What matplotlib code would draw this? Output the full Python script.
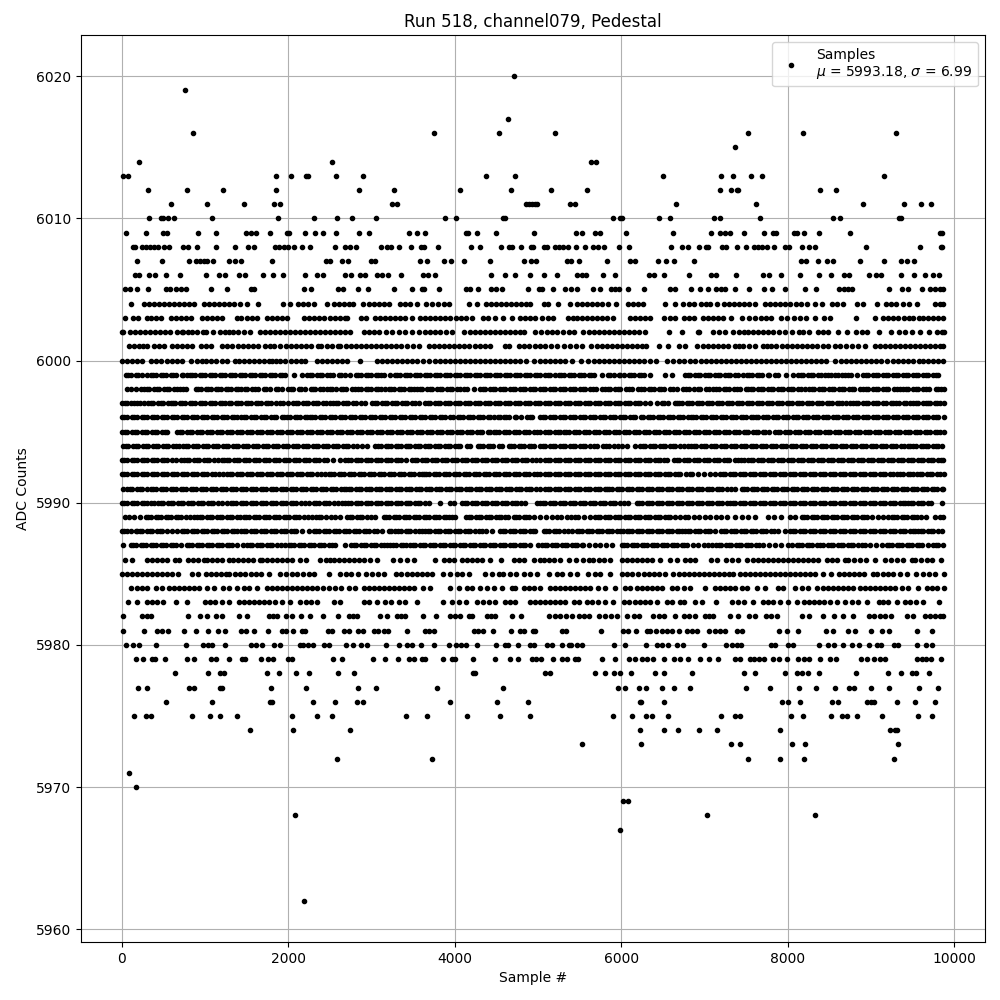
import matplotlib
matplotlib.use('Agg')
import matplotlib.pyplot as plt
import numpy as np

# Sample numbers per ADC level
s6020 = [4708]
s6019 = [760]
s6017 = [4636]
s6016 = [856, 3748, 4528, 5200, 7528, 8188, 9304]
s6015 = [7372]
s6014 = [208, 2524, 5644, 5704]
s6013 = [16, 76, 1852, 2032, 2216, 2240, 2572, 2896, 4372, 4720, 6508, 7204, 7348, 7564, 7696, 9160]
s6012 = [316, 784, 1216, 1852, 2848, 3268, 4060, 4672, 5152, 5596, 7192, 7324, 7396, 7408, 8392, 8584]
s6011 = [592, 1024, 1468, 1828, 1904, 3244, 3304, 4852, 4890, 4930, 4960, 4990, 5380, 5452, 6664, 7624, 8908, 9400, 9604, 9724]
s6010 = [328, 470, 500, 560, 628, 1084, 1876, 2308, 2584, 2764, 3052, 3880, 4012, 4576, 4600, 5908, 5988, 6016, 6460, 6592, 7116, 7188, 7672, 8548, 8632, 9340, 9360]
s6009 = [52, 292, 496, 544, 916, 1132, 1492, 1552, 1612, 1780, 1984, 2008, 2200, 2320, 2416, 2572, 2848, 2968, 3448, 3544, 3640, 4132, 4156, 4264, 4492, 4948, 5464, 5536, 5692, 5752, 6064, 6628, 7084, 7192, 7252, 7312, 7480, 7720, 7828, 7864, 8080, 8116, 8200, 8380, 8752, 9832, 9856]
s6008 = [136, 160, 244, 292, 340, 388, 436, 508, 568, 736, 796, 904, 1132, 1360, 1516, 1588, 1840, 1888, 1948, 1996, 2068, 2164, 2260, 2560, 2680, 2740, 2812, 3112, 3184, 3232, 3328, 3472, 3592, 3628, 3796, 4192, 4304, 4552, 4648, 4684, 4800, 4912, 4936, 5068, 5104, 5200, 5248, 5296, 5356, 5464, 5572, 5668, 5728, 5800, 5980, 6100, 6604, 6736, 6808, 6940, 7024, 7048, 7216, 7264, 7396, 7504, 7600, 7648, 7696, 7756, 7840, 7972, 8020, 8176, 8260, 8332, 8944, 9592, 9844, 9856]
s6007 = [184, 484, 808, 892, 940, 988, 1024, 1096, 1288, 1360, 1432, 1804, 2452, 2500, 2644, 2716, 2992, 3040, 3580, 3664, 3868, 3952, 4108, 4420, 4828, 4912, 4972, 5344, 5392, 5500, 5836, 6112, 6172, 6448, 6544, 6640, 6880, 8164, 8224, 8368, 8476, 8548, 8872, 9160, 9364, 9436, 9520]
s6006 = [160, 208, 328, 400, 532, 700, 1012, 1168, 1240, 1408, 1480, 1696, 1816, 1936, 2200, 2344, 2416, 2680, 2752, 2860, 2920, 3064, 3124, 3196, 3352, 3616, 3676, 3760, 4432, 4600, 4720, 4900, 5068, 5224, 5476, 5536, 5584, 5788, 5932, 6340, 6400, 6520, 6820, 7084, 7144, 7384, 7708, 7780, 7924, 8152, 8380, 8524, 8680, 8740, 8980, 9064, 9124, 9364, 9520, 9652, 9748, 9820]
s6005 = [40, 100, 184, 316, 532, 580, 652, 712, 772, 1072, 1264, 1552, 1588, 2188, 2272, 2596, 2656, 2836, 2956, 3268, 3484, 3604, 3628, 3808, 4132, 4180, 4276, 4432, 4492, 4564, 4876, 5008, 5048, 5176, 5320, 5392, 5476, 5668, 5752, 5884, 5932, 5980, 6088, 6280, 6592, 6652, 6844, 6952, 7048, 7144, 7204, 7252, 7372, 7540, 7720, 7816, 7972, 8212, 8344, 8620, 8680, 8728, 8776, 9220, 9376, 9448, 9616, 9712, 9772, 9828, 9870]
s6004 = [108, 268, 328, 388, 448, 508, 568, 628, 688, 748, 808, 868, 988, 1048, 1108, 1168, 1228, 1288, 1348, 1420, 1504, 1636, 1936, 2020, 2116, 2176, 2236, 2308, 2464, 2548, 2608, 2668, 2728, 2776, 2896, 2968, 3028, 3088, 3148, 3208, 3348, 3408, 3468, 3548, 3652, 3724, 3796, 3868, 3928, 4168, 4268, 4372, 4432, 4492, 4552, 4612, 4672, 4732, 4792, 4852, 4900, 5068, 5116, 5236, 5380, 5476, 5536, 5596, 5656, 5716, 5776, 5848, 5944, 6088, 6148, 6208, 6268, 6532, 6652, 6748, 6820, 6880, 6964, 7024, 7072, 7156, 7240, 7300, 7360, 7420, 7480, 7540, 7612, 7732, 7792, 7852, 7912, 7972, 8032, 8104, 8164, 8236, 8332, 8416, 8536, 8596, 8668, 8836, 8908, 9076, 9184, 9244, 9304, 9388, 9460, 9556, 9772, 9832, 9870]
s6003 = [40, 136, 196, 308, 356, 408, 468, 588, 648, 708, 768, 828, 968, 1028, 1088, 1148, 1208, 1380, 1440, 1508, 1568, 1628, 1748, 1808, 1868, 1928, 1988, 2196, 2256, 2316, 2376, 2436, 2508, 2568, 2628, 2688, 2708, 2876, 2940, 3048, 3108, 3168, 3228, 3288, 3348, 3408, 3488, 3580, 3640, 3700, 3760, 3820, 3880, 3948, 4012, 4072, 4132, 4208, 4340, 4400, 4484, 4580, 4688, 4788, 4848, 4908, 4968, 5048, 5120, 5180, 5356, 5416, 5476, 5536, 5596, 5656, 5716, 5776, 5836, 5900, 6112, 6172, 6232, 6292, 6352, 6520, 6592, 6652, 6760, 6820, 6880, 6988, 7048, 7108, 7168, 7228, 7324, 7448, 7540, 7612, 7684, 7744, 7804, 7924, 7996, 8080, 8148, 8224, 8332, 8440, 8512, 8824, 9048, 9148, 9208, 9268, 9320, 9392, 9452, 9512, 9580, 9632, 9692, 9752, 9812, 9872]
s6002 = [0, 16, 100, 160, 220, 280, 340, 400, 460, 520, 580, 660, 720, 736, 796, 848, 908, 976, 1012, 1092, 1180, 1240, 1288, 1336, 1400, 1470, 1548, 1660, 1720, 1780, 1840, 1900, 1960, 2020, 2080, 2140, 2200, 2260, 2320, 2380, 2440, 2500, 2560, 2620, 2680, 2748, 2908, 2968, 3028, 3088, 3180, 3248, 3336, 3408, 3492, 3576, 3640, 3700, 3770, 3830, 3900, 3964, 4108, 4180, 4240, 4300, 4360, 4420, 4480, 4540, 4600, 4660, 4720, 4780, 4836, 4968, 5040, 5110, 5170, 5230, 5300, 5370, 5430, 5548, 5610, 5670, 5730, 5790, 5850, 5910, 5970, 6030, 6090, 6150, 6220, 6288, 6580, 6736, 6920, 6936, 7108, 7180, 7248, 7340, 7420, 7470, 7528, 7588, 7650, 7710, 7770, 7830, 7900, 7970, 8048, 8140, 8188, 8260, 8368, 8430, 8488, 8608, 8712, 8824, 8890, 8948, 9100, 9244, 9340, 9410, 9488, 9592, 9700, 9796, 9850, 9875]
s6001 = [88, 150, 210, 260, 308, 388, 450, 508, 600, 670, 730, 790, 848, 948, 1010, 1068, 1208, 1270, 1330, 1400, 1460, 1520, 1580, 1636, 1728, 1780, 1828, 1904, 1972, 2030, 2090, 2150, 2210, 2280, 2356, 2392, 2468, 2530, 2596, 2628, 2690, 2750, 2810, 2870, 2930, 2990, 3050, 3110, 3180, 3240, 3300, 3360, 3430, 3500, 3568, 3688, 3750, 3810, 3870, 3930, 3990, 4050, 4110, 4170, 4240, 4300, 4370, 4428, 4600, 4648, 4768, 4830, 4890, 4960, 5028, 5090, 5160, 5230, 5308, 5388, 5460, 5528, 5644, 5708, 5770, 5830, 5890, 5950, 6010, 6070, 6130, 6190, 6248, 6304, 6460, 6568, 6700, 6772, 6916, 6980, 7040, 7100, 7160, 7220, 7288, 7368, 7420, 7468, 7540, 7610, 7708, 7748, 7800, 7856, 7928, 7996, 8048, 8110, 8170, 8230, 8290, 8350, 8420, 8490, 8568, 8628, 8700, 8770, 8850, 8928, 9048, 9110, 9170, 9230, 9290, 9350, 9410, 9470, 9530, 9590, 9650, 9710, 9770, 9830, 9872]
s6000 = [8, 70, 130, 190, 250, 348, 408, 468, 548, 610, 670, 728, 836, 900, 960, 1010, 1068, 1128, 1208, 1268, 1356, 1408, 1470, 1530, 1590, 1650, 1710, 1768, 1808, 1860, 1908, 1968, 2030, 2090, 2150, 2208, 2348, 2410, 2470, 2530, 2590, 2650, 2708, 2868, 3068, 3130, 3190, 3250, 3310, 3370, 3430, 3490, 3550, 3620, 3688, 3768, 3830, 3890, 3950, 4010, 4070, 4128, 4180, 4240, 4300, 4360, 4420, 4480, 4540, 4600, 4660, 4720, 4788, 4860, 4948, 5028, 5090, 5150, 5210, 5268, 5328, 5408, 5524, 5608, 5670, 5730, 5790, 5850, 5910, 5970, 6030, 6090, 6150, 6210, 6280, 6348, 6424, 6548, 6628, 6690, 6760, 6830, 6888, 6964, 7020, 7080, 7140, 7200, 7260, 7320, 7380, 7440, 7500, 7560, 7620, 7680, 7740, 7800, 7860, 7920, 7980, 8040, 8100, 8160, 8220, 8280, 8340, 8400, 8460, 8568, 8640, 8700, 8760, 8820, 8880, 8940, 9000, 9060, 9120, 9188, 9260, 9320, 9380, 9440, 9510, 9580, 9628, 9690, 9750, 9810, 9868]
s5999 = [48, 80, 110, 170, 200, 240, 308, 348, 380, 410, 470, 500, 530, 590, 620, 650, 720, 740, 788, 820, 850, 880, 940, 970, 1000, 1060, 1090, 1120, 1180, 1210, 1240, 1300, 1330, 1360, 1420, 1450, 1480, 1540, 1570, 1600, 1660, 1690, 1720, 1780, 1810, 1840, 1900, 1930, 1968, 2076, 2168, 2228, 2260, 2290, 2350, 2380, 2410, 2470, 2500, 2540, 2610, 2640, 2688, 2748, 2810, 2840, 2870, 2930, 2960, 2990, 3050, 3080, 3110, 3156, 3228, 3280, 3310, 3340, 3400, 3430, 3460, 3520, 3550, 3580, 3640, 3670, 3700, 3760, 3790, 3820, 3880, 3910, 3940, 4000, 4030, 4060, 4120, 4150, 4180, 4240, 4270, 4300, 4360, 4390, 4428, 4480, 4510, 4540, 4600, 4630, 4660, 4720, 4750, 4780, 4840, 4870, 4900, 4960, 4990, 5028, 5090, 5120, 5150, 5208, 5248, 5280, 5310, 5370, 5400, 5430, 5490, 5520, 5550, 5610, 5640, 5670, 5768, 5848, 5870, 5910, 5970, 5990, 6030, 6090, 6120, 6150, 6210, 6240, 6280, 6348, 6528, 6608, 6768, 6800, 6830, 6890, 6920, 6950, 7010, 7040, 7070, 7130, 7160, 7190, 7250, 7280, 7310, 7370, 7400, 7468, 7508, 7540, 7570, 7630, 7660, 7690, 7760, 7780, 7848, 7888, 7980, 8068, 8128, 8160, 8190, 8250, 8280, 8310, 8370, 8400, 8448, 8488, 8520, 8570, 8610, 8648, 8688, 8720, 8760, 8828, 8908, 8940, 8970, 9030, 9060, 9090, 9150, 9180, 9210, 9270, 9300, 9330, 9390, 9420, 9450, 9510, 9540, 9570, 9630, 9660, 9690, 9750, 9780, 9808]
s5998 = [68, 108, 168, 228, 268, 300, 330, 390, 420, 450, 510, 540, 570, 630, 660, 700, 740, 768, 888, 920, 950, 1010, 1040, 1070, 1130, 1160, 1190, 1250, 1280, 1310, 1370, 1400, 1440, 1480, 1508, 1568, 1600, 1640, 1710, 1740, 1780, 1850, 1880, 1928, 1996, 2040, 2060, 2130, 2160, 2200, 2270, 2300, 2328, 2388, 2420, 2468, 2508, 2530, 2570, 2640, 2660, 2700, 2768, 2808, 2840, 2870, 2930, 2960, 2990, 3050, 3080, 3110, 3168, 3208, 3240, 3270, 3330, 3360, 3390, 3450, 3480, 3508, 3548, 3580, 3610, 3670, 3700, 3730, 3790, 3820, 3850, 3910, 3940, 3970, 4030, 4060, 4108, 4148, 4228, 4308, 4340, 4370, 4430, 4460, 4490, 4550, 4580, 4610, 4670, 4700, 4730, 4790, 4820, 4850, 4910, 4940, 4970, 5028, 5060, 5090, 5150, 5180, 5210, 5270, 5300, 5330, 5390, 5420, 5450, 5510, 5540, 5570, 5630, 5660, 5700, 5768, 5808, 5840, 5870, 5930, 5960, 5990, 6060, 6090, 6128, 6208, 6240, 6270, 6330, 6360, 6390, 6450, 6480, 6520, 6590, 6620, 6668, 6740, 6780, 6810, 6880, 6920, 6950, 7020, 7060, 7108, 7140, 7170, 7230, 7260, 7290, 7360, 7390, 7430, 7500, 7528, 7560, 7590, 7650, 7680, 7710, 7770, 7800, 7830, 7890, 7920, 7950, 8010, 8040, 8070, 8130, 8160, 8208, 8260, 8290, 8320, 8380, 8410, 8440, 8500, 8530, 8560, 8620, 8650, 8680, 8740, 8770, 8800, 8868, 8908, 8940, 8970, 9030, 9060, 9090, 9150, 9180, 9210, 9280, 9310, 9348, 9388, 9420, 9450, 9510, 9540, 9570, 9630, 9660, 9700, 9788, 9808, 9840, 9876]
s5997 = [0, 40, 70, 110, 148, 180, 220, 268, 320, 350, 380, 440, 470, 500, 560, 590, 620, 636, 700, 730, 760, 820, 850, 880, 940, 970, 1000, 1060, 1090, 1120, 1180, 1210, 1240, 1290, 1316, 1368, 1400, 1430, 1490, 1520, 1550, 1610, 1640, 1670, 1730, 1760, 1790, 1850, 1900, 1940, 1996, 2060, 2090, 2120, 2180, 2210, 2240, 2300, 2330, 2360, 2420, 2450, 2508, 2540, 2570, 2600, 2660, 2690, 2720, 2780, 2810, 2876, 2928, 3008, 3040, 3070, 3130, 3160, 3190, 3250, 3280, 3310, 3370, 3400, 3430, 3490, 3520, 3568, 3648, 3680, 3710, 3770, 3800, 3830, 3890, 3920, 3950, 4010, 4040, 4070, 4130, 4160, 4190, 4250, 4280, 4310, 4370, 4400, 4430, 4490, 4520, 4550, 4610, 4640, 4670, 4730, 4760, 4790, 4850, 4880, 4910, 4970, 5000, 5028, 5090, 5120, 5150, 5210, 5240, 5270, 5330, 5360, 5390, 5450, 5480, 5510, 5570, 5600, 5630, 5690, 5720, 5750, 5810, 5840, 5870, 5930, 5960, 5990, 6050, 6080, 6110, 6170, 6200, 6230, 6288, 6348, 6428, 6488, 6520, 6560, 6648, 6668, 6700, 6730, 6790, 6820, 6850, 6910, 6940, 6970, 7030, 7060, 7090, 7150, 7180, 7210, 7270, 7300, 7330, 7390, 7420, 7450, 7510, 7540, 7570, 7630, 7660, 7690, 7750, 7780, 7810, 7870, 7900, 7930, 7990, 8020, 8050, 8110, 8140, 8170, 8230, 8260, 8290, 8350, 8380, 8410, 8470, 8500, 8530, 8590, 8620, 8650, 8700, 8748, 8788, 8820, 8850, 8910, 8940, 8970, 9030, 9060, 9090, 9150, 9180, 9240, 9268, 9300, 9340, 9400, 9420, 9468, 9500, 9540, 9570, 9630, 9660, 9688, 9708, 9770, 9800, 9830, 9877]
s5996 = [0, 30, 60, 120, 150, 180, 240, 270, 300, 360, 390, 420, 480, 510, 540, 600, 630, 660, 720, 750, 780, 840, 870, 900, 960, 990, 1020, 1080, 1110, 1140, 1200, 1230, 1260, 1320, 1350, 1380, 1440, 1470, 1500, 1560, 1590, 1620, 1680, 1710, 1740, 1800, 1830, 1860, 1928, 1956, 1990, 2020, 2080, 2110, 2140, 2200, 2228, 2260, 2290, 2320, 2380, 2410, 2440, 2500, 2530, 2560, 2620, 2650, 2680, 2740, 2770, 2800, 2860, 2890, 2920, 2980, 3010, 3040, 3100, 3130, 3160, 3220, 3250, 3280, 3340, 3370, 3400, 3460, 3490, 3520, 3580, 3610, 3640, 3700, 3730, 3760, 3820, 3850, 3880, 3950, 3980, 4036, 4070, 4100, 4160, 4190, 4220, 4280, 4310, 4340, 4400, 4430, 4470, 4520, 4548, 4588, 4620, 4650, 4720, 4740, 4796, 4868, 4900, 4930, 5028, 5060, 5090, 5150, 5180, 5210, 5270, 5300, 5330, 5390, 5420, 5450, 5510, 5540, 5570, 5630, 5660, 5690, 5750, 5780, 5810, 5870, 5900, 5930, 5990, 6020, 6050, 6110, 6140, 6170, 6240, 6268, 6320, 6350, 6380, 6440, 6470, 6500, 6560, 6590, 6620, 6680, 6710, 6740, 6808, 6836, 6860, 6900, 6960, 6980, 7020, 7080, 7100, 7140, 7200, 7220, 7260, 7320, 7340, 7380, 7440, 7460, 7500, 7556, 7588, 7620, 7650, 7710, 7740, 7770, 7830, 7860, 7890, 7950, 7980, 8010, 8070, 8100, 8130, 8190, 8220, 8250, 8310, 8340, 8370, 8430, 8460, 8490, 8550, 8580, 8610, 8670, 8700, 8730, 8790, 8820, 8850, 8910, 8940, 8970, 9030, 9060, 9090, 9150, 9180, 9210, 9270, 9300, 9330, 9390, 9420, 9450, 9510, 9540, 9570, 9630, 9660, 9690, 9750, 9780, 9810, 9875]
s5995 = [8, 40, 70, 130, 160, 190, 250, 280, 310, 370, 400, 430, 490, 520, 548, 668, 700, 730, 790, 820, 850, 910, 940, 970, 1030, 1060, 1090, 1150, 1180, 1210, 1270, 1300, 1330, 1390, 1420, 1450, 1510, 1540, 1570, 1630, 1660, 1690, 1750, 1780, 1810, 1870, 1900, 1930, 1990, 2020, 2050, 2110, 2140, 2170, 2230, 2260, 2290, 2350, 2380, 2410, 2470, 2500, 2530, 2590, 2620, 2650, 2710, 2740, 2770, 2830, 2860, 2890, 2950, 2980, 3010, 3070, 3100, 3130, 3190, 3220, 3250, 3310, 3340, 3370, 3430, 3460, 3490, 3550, 3580, 3610, 3670, 3700, 3730, 3790, 3820, 3850, 3910, 3940, 3970, 4030, 4060, 4090, 4150, 4180, 4210, 4270, 4300, 4330, 4400, 4428, 4468, 4500, 4530, 4590, 4620, 4650, 4710, 4740, 4770, 4830, 4860, 4890, 4950, 4990, 5028, 5090, 5120, 5150, 5210, 5240, 5268, 5308, 5340, 5370, 5430, 5460, 5490, 5550, 5580, 5610, 5670, 5700, 5730, 5790, 5820, 5850, 5910, 5940, 5970, 6030, 6060, 6090, 6150, 6180, 6210, 6270, 6300, 6330, 6390, 6420, 6450, 6510, 6540, 6570, 6630, 6660, 6690, 6750, 6780, 6810, 6870, 6900, 6930, 6990, 7020, 7050, 7110, 7140, 7170, 7230, 7260, 7290, 7350, 7380, 7410, 7470, 7500, 7530, 7590, 7620, 7650, 7700, 7728, 7780, 7848, 7880, 7910, 7970, 8000, 8030, 8090, 8120, 8150, 8210, 8240, 8270, 8330, 8360, 8390, 8450, 8480, 8510, 8570, 8600, 8630, 8690, 8720, 8750, 8810, 8840, 8870, 8930, 8960, 8990, 9050, 9080, 9110, 9170, 9200, 9230, 9290, 9320, 9350, 9410, 9440, 9470, 9530, 9560, 9590, 9650, 9680, 9710, 9770, 9800, 9830, 9877]
s5994 = [20, 50, 80, 140, 170, 200, 260, 290, 320, 380, 410, 440, 500, 530, 560, 620, 650, 688, 740, 770, 800, 860, 890, 920, 980, 1010, 1040, 1100, 1130, 1160, 1220, 1250, 1280, 1340, 1370, 1400, 1460, 1490, 1520, 1580, 1610, 1640, 1700, 1730, 1760, 1820, 1850, 1880, 1940, 1970, 2000, 2060, 2090, 2120, 2180, 2210, 2240, 2300, 2330, 2360, 2420, 2450, 2480, 2540, 2570, 2600, 2660, 2690, 2720, 2780, 2828, 2888, 2948, 3048, 3080, 3110, 3170, 3200, 3230, 3290, 3320, 3350, 3410, 3440, 3470, 3530, 3560, 3590, 3650, 3680, 3710, 3770, 3800, 3830, 3890, 3920, 3950, 4010, 4040, 4070, 4150, 4180, 4280, 4310, 4340, 4400, 4430, 4460, 4530, 4568, 4648, 4680, 4710, 4770, 4800, 4830, 4890, 4920, 4950, 5028, 5060, 5090, 5150, 5180, 5210, 5270, 5300, 5330, 5390, 5420, 5450, 5510, 5540, 5570, 5630, 5670, 5708, 5788, 5820, 5850, 5910, 5960, 6008, 6076, 6164, 6228, 6260, 6290, 6350, 6380, 6410, 6470, 6500, 6530, 6590, 6620, 6650, 6710, 6750, 6808, 6836, 6870, 6900, 6960, 6990, 7020, 7080, 7110, 7140, 7200, 7230, 7260, 7320, 7350, 7380, 7440, 7470, 7500, 7560, 7590, 7620, 7680, 7710, 7740, 7800, 7830, 7860, 7920, 7950, 7980, 8040, 8070, 8100, 8160, 8190, 8220, 8280, 8310, 8340, 8400, 8430, 8460, 8520, 8550, 8580, 8640, 8670, 8700, 8760, 8790, 8820, 8880, 8910, 8940, 9000, 9030, 9060, 9120, 9150, 9180, 9240, 9270, 9300, 9360, 9400, 9448, 9468, 9500, 9540, 9608, 9628, 9660, 9690, 9750, 9780, 9810, 9860]
s5993 = [0, 30, 60, 120, 150, 180, 240, 270, 300, 360, 390, 420, 480, 510, 540, 600, 650, 708, 748, 780, 810, 870, 900, 930, 990, 1020, 1050, 1110, 1160, 1208, 1228, 1260, 1290, 1350, 1380, 1410, 1470, 1500, 1530, 1590, 1620, 1650, 1710, 1740, 1770, 1830, 1860, 1890, 1950, 1980, 2010, 2070, 2100, 2130, 2190, 2220, 2250, 2310, 2340, 2370, 2430, 2470, 2540, 2620, 2688, 2720, 2750, 2810, 2840, 2870, 2930, 2960, 2990, 3050, 3080, 3110, 3170, 3200, 3230, 3290, 3320, 3350, 3420, 3488, 3520, 3550, 3610, 3640, 3670, 3730, 3760, 3790, 3850, 3880, 3910, 3970, 4000, 4030, 4090, 4120, 4150, 4210, 4240, 4270, 4330, 4360, 4390, 4450, 4480, 4510, 4570, 4600, 4630, 4690, 4720, 4750, 4810, 4840, 4870, 4930, 4980, 5028, 5090, 5120, 5150, 5210, 5240, 5270, 5330, 5360, 5390, 5450, 5480, 5510, 5570, 5600, 5630, 5690, 5720, 5750, 5810, 5840, 5870, 5930, 5960, 5990, 6050, 6080, 6110, 6170, 6200, 6230, 6290, 6320, 6350, 6410, 6440, 6470, 6510, 6548, 6640, 6670, 6700, 6760, 6790, 6820, 6880, 6910, 6940, 7000, 7030, 7060, 7120, 7150, 7180, 7240, 7270, 7300, 7368, 7408, 7440, 7470, 7530, 7560, 7590, 7650, 7680, 7710, 7770, 7800, 7830, 7890, 7920, 7950, 8010, 8040, 8070, 8130, 8160, 8190, 8250, 8280, 8310, 8370, 8400, 8430, 8490, 8520, 8550, 8610, 8640, 8670, 8730, 8760, 8790, 8850, 8880, 8910, 8970, 9000, 9030, 9090, 9120, 9150, 9210, 9240, 9270, 9330, 9360, 9390, 9450, 9480, 9510, 9570, 9600, 9630, 9690, 9720, 9750, 9810, 9840, 9872]
s5992 = [0, 30, 60, 120, 150, 180, 240, 270, 300, 360, 390, 420, 480, 510, 540, 600, 630, 660, 720, 750, 780, 840, 870, 900, 960, 990, 1020, 1080, 1120, 1168, 1220, 1268, 1300, 1330, 1390, 1420, 1450, 1510, 1540, 1570, 1630, 1660, 1690, 1750, 1780, 1810, 1870, 1900, 1930, 1990, 2020, 2050, 2110, 2140, 2170, 2230, 2260, 2290, 2350, 2400, 2448, 2488, 2520, 2550, 2610, 2640, 2670, 2730, 2760, 2790, 2850, 2880, 2910, 2970, 3000, 3030, 3090, 3120, 3150, 3210, 3240, 3270, 3330, 3360, 3390, 3450, 3480, 3510, 3570, 3608, 3628, 3660, 3690, 3750, 3780, 3810, 3870, 3900, 3930, 3990, 4020, 4050, 4110, 4140, 4170, 4230, 4260, 4290, 4350, 4380, 4410, 4470, 4500, 4530, 4590, 4620, 4650, 4710, 4740, 4770, 4830, 4860, 4890, 4950, 4990, 5028, 5090, 5120, 5150, 5210, 5240, 5270, 5330, 5360, 5390, 5450, 5480, 5510, 5570, 5600, 5630, 5690, 5720, 5750, 5810, 5840, 5870, 5930, 5960, 5990, 6050, 6080, 6110, 6170, 6200, 6230, 6290, 6320, 6350, 6410, 6440, 6470, 6530, 6560, 6590, 6650, 6680, 6710, 6780, 6828, 6848, 6920, 6990, 7068, 7128, 7188, 7220, 7250, 7310, 7340, 7370, 7430, 7460, 7490, 7550, 7580, 7610, 7670, 7700, 7730, 7790, 7820, 7850, 7910, 7940, 7970, 8030, 8060, 8090, 8150, 8180, 8210, 8270, 8300, 8330, 8390, 8420, 8450, 8510, 8540, 8570, 8630, 8660, 8690, 8750, 8780, 8810, 8870, 8900, 8930, 8990, 9020, 9050, 9110, 9140, 9170, 9230, 9268, 9316, 9350, 9380, 9440, 9470, 9500, 9560, 9590, 9620, 9680, 9710, 9740, 9800, 9830, 9875]
s5991 = [20, 68, 100, 130, 190, 220, 250, 308, 348, 380, 410, 470, 500, 530, 590, 620, 650, 710, 740, 770, 830, 860, 890, 950, 980, 1010, 1070, 1100, 1130, 1190, 1220, 1250, 1310, 1340, 1370, 1430, 1460, 1490, 1550, 1580, 1610, 1670, 1700, 1730, 1790, 1820, 1850, 1910, 1940, 1970, 2030, 2060, 2090, 2150, 2180, 2210, 2270, 2300, 2330, 2390, 2420, 2450, 2510, 2540, 2570, 2630, 2668, 2700, 2730, 2760, 2820, 2850, 2880, 2940, 2970, 3000, 3060, 3090, 3120, 3180, 3210, 3240, 3300, 3330, 3360, 3420, 3450, 3480, 3540, 3570, 3600, 3660, 3690, 3720, 3780, 3810, 3840, 3900, 3930, 3960, 4020, 4050, 4080, 4140, 4170, 4200, 4260, 4290, 4320, 4380, 4410, 4440, 4500, 4530, 4560, 4620, 4650, 4680, 4740, 4770, 4800, 4860, 4890, 4920, 4980, 5028, 5090, 5120, 5150, 5210, 5240, 5270, 5330, 5360, 5390, 5450, 5480, 5510, 5570, 5600, 5630, 5690, 5720, 5750, 5808, 5828, 5860, 5890, 5950, 5980, 6010, 6070, 6100, 6130, 6190, 6220, 6250, 6310, 6340, 6370, 6430, 6460, 6490, 6550, 6580, 6610, 6670, 6700, 6730, 6790, 6820, 6850, 6910, 6940, 6970, 7030, 7060, 7090, 7150, 7180, 7210, 7270, 7320, 7368, 7448, 7480, 7510, 7570, 7600, 7630, 7690, 7720, 7750, 7810, 7840, 7870, 7930, 7960, 7990, 8050, 8080, 8110, 8170, 8200, 8230, 8290, 8320, 8350, 8410, 8440, 8470, 8530, 8560, 8590, 8650, 8680, 8710, 8770, 8800, 8830, 8890, 8920, 8950, 9010, 9040, 9070, 9130, 9160, 9190, 9250, 9280, 9310, 9370, 9400, 9430, 9490, 9520, 9550, 9610, 9640, 9670, 9730, 9760, 9790, 9850, 9872]
s5990 = [0, 30, 60, 120, 150, 180, 240, 270, 300, 350, 388, 440, 470, 500, 560, 590, 620, 680, 710, 740, 800, 830, 860, 920, 950, 980, 1040, 1070, 1100, 1160, 1210, 1268, 1308, 1340, 1370, 1430, 1460, 1490, 1550, 1580, 1610, 1670, 1700, 1730, 1790, 1820, 1850, 1910, 1940, 1970, 2030, 2060, 2090, 2150, 2208, 2248, 2308, 2340, 2370, 2430, 2460, 2490, 2550, 2600, 2648, 2688, 2720, 2750, 2810, 2840, 2870, 2930, 2960, 2990, 3050, 3080, 3110, 3170, 3200, 3230, 3290, 3320, 3350, 3410, 3440, 3470, 3530, 3560, 3590, 3640, 3688, 3828, 3940, 3988, 4088, 4120, 4150, 4210, 4240, 4270, 4330, 4360, 4390, 4450, 4480, 4510, 4570, 4600, 4630, 4690, 4720, 4750, 4800, 4848, 4988, 5028, 5060, 5090, 5150, 5180, 5210, 5270, 5300, 5330, 5390, 5420, 5450, 5510, 5540, 5570, 5630, 5660, 5690, 5750, 5780, 5810, 5870, 5900, 5930, 5990, 6040, 6088, 6188, 6220, 6250, 6310, 6340, 6370, 6430, 6460, 6490, 6550, 6580, 6610, 6670, 6700, 6730, 6790, 6820, 6850, 6910, 6940, 6970, 7030, 7060, 7090, 7150, 7180, 7210, 7270, 7310, 7348, 7372, 7428, 7460, 7490, 7550, 7580, 7610, 7670, 7700, 7730, 7790, 7820, 7850, 7910, 7940, 7970, 8030, 8060, 8090, 8150, 8180, 8210, 8270, 8300, 8330, 8390, 8420, 8450, 8510, 8540, 8570, 8630, 8660, 8690, 8750, 8780, 8810, 8870, 8900, 8930, 8990, 9020, 9050, 9110, 9140, 9170, 9230, 9260, 9290, 9350, 9380, 9408, 9448, 9480, 9510, 9570, 9600, 9630, 9688, 9728, 9856]
s5989 = [36, 90, 148, 220, 288, 320, 350, 410, 440, 470, 530, 560, 590, 650, 680, 710, 770, 820, 868, 908, 940, 970, 1030, 1060, 1090, 1150, 1180, 1210, 1270, 1300, 1330, 1380, 1428, 1468, 1500, 1530, 1590, 1620, 1650, 1710, 1740, 1770, 1830, 1860, 1890, 1950, 1980, 2010, 2070, 2100, 2130, 2190, 2240, 2288, 2340, 2370, 2400, 2460, 2510, 2568, 2628, 2708, 2740, 2770, 2830, 2860, 2890, 2950, 3000, 3048, 3148, 3180, 3210, 3270, 3300, 3330, 3390, 3420, 3450, 3510, 3540, 3570, 3630, 3660, 3690, 3750, 3780, 3810, 3870, 3900, 3930, 3970, 4008, 4140, 4170, 4200, 4260, 4290, 4320, 4380, 4410, 4440, 4500, 4530, 4560, 4600, 4636, 4708, 4740, 4770, 4830, 4860, 4888, 4948, 5028, 5100, 5170, 5228, 5276, 5350, 5400, 5448, 5488, 5560, 5628, 5688, 5720, 5750, 5810, 5840, 5870, 5930, 5960, 5990, 6050, 6080, 6110, 6170, 6200, 6230, 6290, 6320, 6350, 6410, 6440, 6470, 6530, 6560, 6590, 6650, 6710, 6768, 6808, 6880, 6940, 7008, 7068, 7140, 7200, 7268, 7368, 7448, 7530, 7608, 7768, 7840, 7920, 8028, 8088, 8168, 8200, 8230, 8290, 8320, 8350, 8410, 8440, 8470, 8530, 8560, 8590, 8650, 8680, 8710, 8770, 8800, 8830, 8890, 8920, 8948, 9008, 9080, 9140, 9208, 9248, 9280, 9310, 9370, 9400, 9430, 9490, 9520, 9550, 9600, 9660, 9768, 9830, 9872]
s5988 = [0, 30, 60, 110, 168, 188, 220, 250, 310, 340, 370, 430, 460, 490, 550, 610, 660, 720, 750, 780, 840, 870, 900, 960, 990, 1020, 1080, 1110, 1140, 1200, 1230, 1260, 1320, 1350, 1380, 1440, 1470, 1500, 1560, 1590, 1620, 1680, 1710, 1740, 1800, 1830, 1860, 1920, 1950, 1980, 2040, 2070, 2100, 2168, 2248, 2308, 2340, 2370, 2430, 2460, 2490, 2550, 2580, 2610, 2670, 2700, 2730, 2790, 2820, 2850, 2910, 2940, 2970, 3028, 3068, 3130, 3208, 3236, 3288, 3320, 3350, 3410, 3440, 3470, 3530, 3570, 3608, 3648, 3680, 3710, 3770, 3800, 3830, 3890, 3920, 3950, 4010, 4040, 4070, 4130, 4160, 4190, 4250, 4290, 4328, 4380, 4448, 4548, 4580, 4610, 4670, 4700, 4730, 4790, 4820, 4850, 4910, 4940, 4968, 5068, 5100, 5130, 5190, 5220, 5250, 5310, 5360, 5408, 5468, 5500, 5530, 5590, 5620, 5650, 5710, 5740, 5770, 5830, 5860, 5890, 5950, 5990, 6028, 6068, 6100, 6130, 6190, 6220, 6250, 6310, 6340, 6370, 6430, 6460, 6490, 6550, 6580, 6610, 6670, 6700, 6728, 6768, 6800, 6830, 6890, 6920, 6950, 7010, 7040, 7070, 7128, 7196, 7230, 7260, 7320, 7350, 7380, 7440, 7470, 7500, 7560, 7590, 7620, 7680, 7710, 7740, 7800, 7840, 7888, 7968, 8028, 8060, 8090, 8150, 8180, 8210, 8270, 8300, 8330, 8390, 8420, 8450, 8510, 8540, 8570, 8630, 8660, 8690, 8750, 8780, 8810, 8870, 8900, 8930, 8990, 9020, 9050, 9110, 9140, 9170, 9230, 9260, 9290, 9350, 9380, 9410, 9470, 9500, 9528, 9568, 9600, 9630, 9690, 9720, 9750, 9810, 9860]
s5987 = [20, 108, 140, 170, 230, 260, 290, 350, 380, 410, 470, 500, 530, 590, 620, 650, 708, 780, 810, 840, 900, 930, 960, 1020, 1050, 1080, 1140, 1170, 1200, 1260, 1290, 1320, 1388, 1460, 1508, 1540, 1570, 1630, 1660, 1690, 1750, 1780, 1810, 1870, 1920, 1968, 2008, 2040, 2070, 2130, 2160, 2190, 2250, 2280, 2310, 2370, 2400, 2430, 2490, 2530, 2568, 2680, 2756, 2790, 2820, 2880, 2910, 2940, 3000, 3030, 3060, 3120, 3150, 3188, 3228, 3260, 3290, 3350, 3380, 3410, 3470, 3500, 3530, 3590, 3620, 3650, 3710, 3740, 3770, 3830, 3860, 3890, 3950, 3980, 4010, 4070, 4100, 4130, 4190, 4220, 4250, 4310, 4340, 4370, 4430, 4460, 4490, 4550, 4580, 4610, 4670, 4700, 4730, 4790, 4820, 4850, 4908, 4996, 5048, 5080, 5110, 5170, 5200, 5230, 5290, 5320, 5350, 5410, 5440, 5470, 5528, 5548, 5620, 5688, 5748, 5820, 5888, 6008, 6040, 6070, 6130, 6160, 6188, 6248, 6280, 6310, 6370, 6400, 6430, 6490, 6520, 6550, 6610, 6640, 6670, 6730, 6760, 6790, 6860, 6928, 6990, 7040, 7088, 7140, 7170, 7200, 7260, 7290, 7320, 7380, 7410, 7440, 7500, 7530, 7560, 7620, 7660, 7708, 7780, 7848, 7920, 8000, 8048, 8108, 8140, 8170, 8230, 8260, 8290, 8350, 8390, 8428, 8488, 8520, 8550, 8610, 8640, 8670, 8730, 8760, 8790, 8850, 8890, 8928, 8988, 9060, 9128, 9188, 9220, 9250, 9310, 9340, 9370, 9430, 9460, 9490, 9550, 9580, 9610, 9688, 9748, 9780, 9810, 9868]
s5986 = [36, 128, 308, 370, 430, 490, 548, 636, 692, 796, 860, 920, 988, 1028, 1090, 1150, 1210, 1288, 1340, 1400, 1460, 1520, 1580, 1668, 1688, 1748, 1810, 1870, 1930, 1990, 2050, 2148, 2216, 2388, 2450, 2500, 2548, 2610, 2670, 2730, 2790, 2850, 2910, 2988, 3068, 3260, 3348, 3430, 3508, 3768, 3868, 3930, 3990, 4088, 4148, 4210, 4270, 4330, 4428, 4560, 4708, 4770, 4828, 4948, 5028, 5068, 5128, 5196, 5268, 5368, 5460, 5548, 5620, 5668, 5730, 5790, 5868, 6008, 6070, 6130, 6190, 6250, 6310, 6370, 6468, 6588, 6670, 6768, 6828, 6888, 7076, 7148, 7260, 7330, 7400, 7508, 7588, 7650, 7710, 7770, 7830, 7890, 7950, 8010, 8070, 8130, 8190, 8250, 8310, 8370, 8468, 8528, 8588, 8688, 8728, 8800, 8870, 8940, 9048, 9168, 9240, 9310, 9380, 9488, 9528, 9600, 9670, 9740, 9848]
s5985 = [8, 70, 128, 188, 250, 310, 370, 430, 490, 550, 608, 680, 848, 920, 1008, 1068, 1130, 1190, 1248, 1288, 1360, 1428, 1488, 1550, 1610, 1670, 1768, 1900, 1970, 2048, 2108, 2180, 2248, 2308, 2492, 2620, 2690, 2760, 2836, 2932, 3008, 3080, 3148, 3300, 3360, 3428, 3488, 3550, 3610, 3670, 3728, 3860, 3940, 4028, 4088, 4168, 4368, 4450, 4528, 4580, 4660, 4740, 4828, 4908, 4988, 5128, 5228, 5288, 5380, 5468, 5608, 5688, 5748, 5868, 6008, 6070, 6128, 6208, 6270, 6330, 6390, 6450, 6528, 6628, 6690, 6750, 6810, 6870, 6930, 6990, 7050, 7110, 7170, 7230, 7290, 7348, 7428, 7490, 7550, 7610, 7670, 7730, 7790, 7850, 7910, 7970, 8030, 8090, 8150, 8210, 8270, 8328, 8428, 8520, 8620, 8676, 8740, 8800, 8860, 8920, 9020, 9076, 9140, 9200, 9270, 9348, 9436, 9548, 9628, 9700, 9770, 9876]
s5984 = [116, 188, 248, 308, 408, 488, 568, 630, 690, 750, 810, 870, 930, 1028, 1108, 1216, 1288, 1388, 1468, 1528, 1628, 1748, 1810, 1870, 1930, 1988, 2048, 2110, 2170, 2230, 2290, 2348, 2420, 2490, 2560, 2630, 2728, 2808, 2908, 2970, 3030, 3090, 3150, 3210, 3270, 3330, 3390, 3450, 3508, 3620, 3708, 3948, 4048, 4148, 4208, 4300, 4388, 4468, 4568, 4688, 4728, 4828, 4890, 4950, 5028, 5148, 5210, 5270, 5330, 5390, 5450, 5510, 5570, 5630, 5728, 5808, 5928, 6048, 6108, 6188, 6250, 6310, 6370, 6430, 6490, 6608, 6668, 6750, 6828, 7008, 7128, 7188, 7250, 7310, 7370, 7448, 7508, 7628, 7732, 7888, 7948, 8088, 8170, 8248, 8356, 8428, 8490, 8550, 8610, 8670, 8730, 8788, 8868, 8930, 8990, 9050, 9110, 9170, 9230, 9290, 9368, 9448, 9568, 9676, 9740, 9800, 9876]
s5983 = [76, 180, 308, 368, 428, 500, 648, 788, 996, 1060, 1120, 1200, 1288, 1408, 1470, 1530, 1590, 1650, 1710, 1770, 1848, 1928, 2028, 2148, 2210, 2270, 2348, 2548, 2628, 2908, 2970, 3068, 3168, 3230, 3328, 3408, 3548, 3860, 3968, 4048, 4140, 4268, 4340, 4410, 4488, 4608, 4670, 4728, 4908, 4970, 5028, 5090, 5150, 5210, 5270, 5330, 5428, 5500, 5588, 5650, 5728, 5808, 5900, 6036, 6100, 6168, 6228, 6290, 6348, 6436, 6548, 6608, 6708, 6756, 6888, 6968, 7136, 7328, 7408, 7480, 7588, 7700, 7760, 7828, 7908, 8008, 8116, 8196, 8260, 8320, 8380, 8440, 8508, 8588, 8688, 8770, 8848, 8948, 9100, 9150, 9208, 9308, 9408, 9470, 9540, 9628, 9820]
s5982 = [16, 248, 300, 348, 796, 940, 1020, 1128, 1208, 1408, 1508, 1768, 1820, 1868, 1980, 2048, 2156, 2268, 2416, 2596, 2728, 2780, 2828, 3108, 3188, 3308, 3360, 3408, 3620, 3780, 3948, 4010, 4068, 4168, 4208, 4388, 4440, 4488, 4688, 4796, 5128, 5200, 5268, 5340, 5408, 5500, 5560, 5620, 5740, 5810, 5880, 5950, 6068, 6156, 6220, 6380, 6450, 6520, 6648, 6760, 6820, 6888, 7008, 7060, 7108, 7308, 7408, 7540, 7608, 7740, 7800, 7868, 8168, 8260, 8428, 8556, 8660, 8788, 8980, 9040, 9110, 9170, 9236, 9428, 9500, 9648, 9710, 9770, 9830, 9872]
s5981 = [16, 268, 428, 484, 556, 748, 892, 1036, 1156, 1240, 1432, 1500, 1588, 1756, 1924, 1972, 2056, 2164, 2200, 2476, 2524, 2668, 2728, 2836, 2896, 3028, 3076, 3148, 3196, 3424, 3640, 3688, 3748, 4228, 4276, 4336, 4456, 4672, 4788, 4836, 4936, 4960, 5288, 5336, 5764, 6028, 6088, 6180, 6316, 6348, 6420, 6488, 6548, 6608, 6700, 6788, 6848, 6908, 7060, 7128, 7188, 7248, 7388, 7448, 7900, 7992, 8128, 8460, 8548, 8728, 8808, 8996, 9136, 9220, 9552, 9736]
s5980 = [52, 136, 208, 412, 772, 976, 1036, 1084, 1240, 1552, 1612, 1684, 1828, 1900, 2140, 2176, 2236, 2296, 2428, 2488, 2692, 2776, 2872, 2944, 3172, 3328, 3424, 3484, 3592, 3748, 3928, 4012, 4072, 4132, 4272, 4492, 4600, 4636, 4756, 4900, 4948, 5108, 5168, 5288, 5368, 5396, 5468, 5536, 5916, 6052, 6296, 6436, 6488, 6568, 6676, 6748, 7000, 7256, 7336, 7396, 7444, 7800, 7852, 8008, 8068, 8380, 8484, 8560, 8668, 8768, 8860, 8980, 9068, 9124, 9280, 9328, 9556, 9668, 9736]
s5979 = [172, 256, 368, 400, 520, 784, 868, 1072, 1132, 1288, 1444, 1480, 1672, 1756, 1816, 1996, 2044, 2536, 2644, 3016, 3160, 3316, 3448, 3508, 3604, 3640, 3856, 3964, 4000, 4216, 4480, 4660, 4756, 4928, 4980, 5040, 5176, 5288, 5344, 5440, 5488, 5776, 5932, 6100, 6172, 6256, 6316, 6388, 6520, 6640, 6708, 6808, 6952, 7060, 7168, 7372, 7428, 7552, 7600, 7660, 7720, 7828, 7900, 7996, 8128, 8200, 8260, 8392, 8512, 8584, 8884, 8956, 9040, 9108, 9168, 9556, 9616, 9668, 9724, 9844]
s5978 = [640, 1036, 1180, 1232, 1744, 1888, 2092, 2248, 2596, 2788, 4216, 4240, 5088, 5140, 5692, 5808, 5920, 5992, 6124, 6412, 6512, 6856, 7480, 7612, 7972, 8116, 8176, 8248, 8380, 8824, 9208, 9364, 9496, 9544, 9700]
s5977 = [196, 304, 808, 868, 1180, 1204, 1792, 2212, 2836, 3052, 3784, 4576, 5968, 6052, 6220, 6304, 6496, 6636, 6832, 7504, 7792, 8140, 8344, 8572, 8740, 8800, 9004, 9220, 9580, 9808]
s5976 = [532, 1084, 1780, 1804, 2296, 2560, 2824, 2896, 3940, 4504, 4876, 6228, 6244, 6512, 7936, 8008, 8152, 8536, 8608, 8956, 9004, 9040, 9316, 9532, 9772]
s5975 = [148, 292, 352, 844, 1060, 1180, 1384, 2044, 2344, 2524, 3412, 3664, 4144, 4540, 4900, 5908, 6136, 6304, 6376, 6568, 7204, 7372, 7432, 8044, 8188, 8524, 8656, 8716, 8836, 9136, 9568, 9736]
s5974 = [1540, 2056, 2740, 6232, 6520, 6688, 6940, 7156, 7912, 9232, 9292, 9316]
s5973 = [5536, 6244, 7324, 7432, 8056, 8212, 9328]
s5972 = [2584, 3724, 7528, 7912, 8200, 9280]
s5971 = [88]
s5970 = [172]
s5969 = [6028, 6088]
s5968 = [2080, 7036, 8332]
s5967 = [5992]
s5962 = [2188]

adc_levels = [6020, 6019, 6017, 6016, 6015, 6014, 6013, 6012, 6011, 6010, 6009, 6008, 6007, 6006, 6005, 6004, 6003, 6002, 6001, 6000,
              5999, 5998, 5997, 5996, 5995, 5994, 5993, 5992, 5991, 5990, 5989, 5988, 5987, 5986, 5985, 5984, 5983, 5982, 5981, 5980,
              5979, 5978, 5977, 5976, 5975, 5974, 5973, 5972, 5971, 5970, 5969, 5968, 5967, 5962]
level_samples = [s6020, s6019, s6017, s6016, s6015, s6014, s6013, s6012, s6011, s6010, s6009, s6008, s6007, s6006, s6005, s6004, s6003, s6002, s6001, s6000,
                 s5999, s5998, s5997, s5996, s5995, s5994, s5993, s5992, s5991, s5990, s5989, s5988, s5987, s5986, s5985, s5984, s5983, s5982, s5981, s5980,
                 s5979, s5978, s5977, s5976, s5975, s5974, s5973, s5972, s5971, s5970, s5969, s5968, s5967, s5962]

# Flatten into x/y for one plot call
x = np.concatenate([np.array(s) for s in level_samples])
y = np.concatenate([np.full(len(s), lev) for lev, s in zip(adc_levels, level_samples)])

fig, ax = plt.subplots(figsize=(10, 10), dpi=100)
ax.plot(x, y, '.', color='black', label='Samples\n$\\mu$ = 5993.18, $\\sigma$ = 6.99')
ax.set_title('Run 518, channel079, Pedestal')
ax.set_xlabel('Sample #')
ax.set_ylabel('ADC Counts')
ax.ticklabel_format(useOffset=False, style='plain', axis='y')
ax.grid(True)
ax.legend(loc='upper right')

fig.subplots_adjust(left=0.0805, right=0.985, top=0.965, bottom=0.058)
plt.savefig('out.png')
